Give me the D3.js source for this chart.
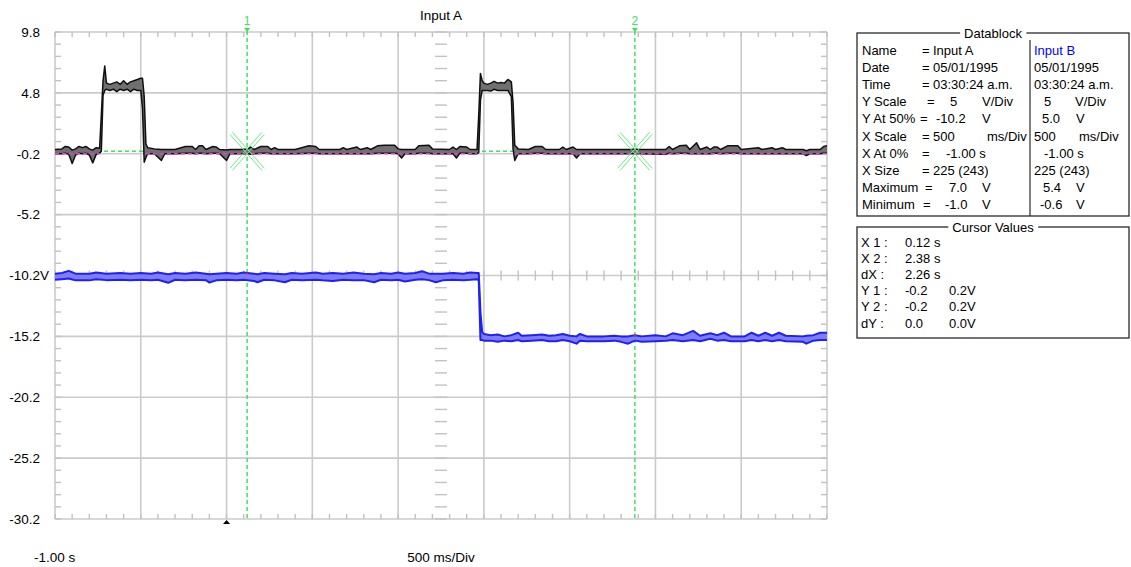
<!DOCTYPE html>
<html>
<head>
<meta charset="utf-8">
<script src="https://cdn.jsdelivr.net/npm/d3@7"></script>
<style>
  html, body { margin: 0; padding: 0; background: #fff; }
  svg { display: block; font-family: "Liberation Sans", Arial, sans-serif; }
</style>
</head>
<body>
<svg id="scope" width="1131" height="567"></svg>
<script>
// ---- Axis and annotation values ----
const yTickValues = [9.8, 4.8, -0.2, -5.2, -10.2, -15.2, -20.2, -25.2, -30.2];
const xGridValues = [-1, -0.5, 0, 0.5, 1, 1.5, 2, 2.5, 3, 3.5];
const titleText = "Input A";
const xStartLabel = "-1.00 s";
const xScaleLabel = "500 ms/Div";
const cursorIds = ["1", "2"];
const cursorTimes = [0.12, 2.38];
const cursorYPair = [-0.2, 0.2];
const refLevelA = -0.2;
const triggerTime = 0;
const centreTime = 1.25;
const centreLevelA = -10.2;
const channelBCentre = 5.0;
const voltsPerDiv = 5;

// ---- Input A: sample times (s) with upper / lower envelope (V) ----
const aTime = [
  -1.00, -0.96, -0.94, -0.92, -0.90, -0.88, -0.86, -0.84, -0.82, -0.80,
  -0.78, -0.76, -0.74, -0.73, -0.72, -0.71, -0.70, -0.68, -0.66, -0.64,
  -0.62, -0.60, -0.58, -0.56, -0.54, -0.52, -0.50, -0.49, -0.48, -0.47,
  -0.46, -0.42, -0.38, -0.36, -0.30, -0.24, -0.20, -0.18, -0.16, -0.14,
  -0.12, -0.08, -0.06, -0.04, 0.00, 0.02, 0.08, 0.12, 0.14, 0.16,
  0.20, 0.24, 0.26, 0.28, 0.30, 0.40, 0.48, 0.52, 0.54, 0.66,
  0.68, 0.70, 0.76, 0.78, 0.82, 0.84, 0.88, 0.92, 0.98, 1.00,
  1.02, 1.04, 1.10, 1.12, 1.18, 1.20, 1.30, 1.32, 1.34, 1.36,
  1.40, 1.42, 1.46, 1.47, 1.48, 1.49, 1.50, 1.52, 1.54, 1.56,
  1.58, 1.60, 1.62, 1.64, 1.66, 1.67, 1.68, 1.70, 1.76, 1.80,
  1.84, 1.86, 1.94, 1.96, 1.98, 2.02, 2.04, 2.06, 2.36, 2.38,
  2.40, 2.56, 2.58, 2.60, 2.64, 2.68, 2.70, 2.74, 2.76, 2.80,
  2.82, 2.84, 2.86, 2.88, 2.92, 2.98, 3.00, 3.10, 3.12, 3.18,
  3.20, 3.24, 3.26, 3.36, 3.38, 3.40, 3.46, 3.48, 3.50
];
const aHigh = [
  0.15, 0.20, 0.40, 0.35, 0.10, 0.20, 0.40, 0.30, 0.40, 0.20,
  0.10, 0.30, 0.25, 3.00, 5.80, 7.00, 5.60, 5.50, 5.60, 5.70,
  5.50, 5.80, 5.50, 5.70, 5.80, 5.90, 6.00, 6.00, 4.50, 0.60,
  0.30, 0.20, 0.15, 0.15, 0.15, 0.40, 0.40, 0.15, 0.45, 0.45,
  0.15, 0.40, 0.35, 0.15, 0.10, 0.15, 0.15, 0.20, 0.35, 0.15,
  0.40, 0.40, 0.15, 0.30, 0.15, 0.15, 0.45, 0.40, 0.15, 0.15,
  0.30, 0.15, 0.35, 0.15, 0.30, 0.15, 0.45, 0.50, 0.50, 0.20,
  0.15, 0.15, 0.15, 0.45, 0.50, 0.20, 0.15, 0.35, 0.15, 0.40,
  0.35, 0.15, 0.15, 3.00, 6.40, 5.80, 5.60, 5.50, 5.60, 5.75,
  5.60, 5.65, 5.60, 5.90, 5.70, 4.00, 0.50, 0.20, 0.15, 0.40,
  0.40, 0.15, 0.15, 0.35, 0.15, 0.35, 0.15, 0.15, 0.15, 0.20,
  0.15, 0.15, 0.40, 0.15, 0.45, 0.50, 0.15, 0.70, 0.15, 0.35,
  0.15, 0.35, 0.35, 0.15, 0.45, 0.45, 0.15, 0.30, 0.15, 0.30,
  0.15, 0.30, 0.15, 0.15, 0.05, 0.15, 0.15, 0.40, 0.45
];
const aLow = [
  -0.20, -0.20, -0.15, -0.25, -1.00, -0.30, -0.15, -0.20, -0.15, -0.30,
  -0.95, -0.25, -0.15, 0.00, 4.60, 5.00, 5.10, 5.00, 5.10, 4.90,
  5.10, 5.00, 5.10, 4.90, 5.10, 5.00, 5.00, 3.50, -0.90, -0.50,
  -0.20, -0.20, -0.75, -0.20, -0.20, -0.15, -0.15, -0.20, -0.15, -0.15,
  -0.20, -0.15, -0.15, -0.20, -0.75, -0.20, -0.20, -0.20, -0.25, -0.20,
  -0.15, -0.15, -0.20, -0.20, -0.20, -0.20, -0.15, -0.15, -0.20, -0.20,
  -0.20, -0.20, -0.20, -0.20, -0.20, -0.20, -0.15, -0.15, -0.15, -0.20,
  -0.55, -0.20, -0.20, -0.15, -0.15, -0.20, -0.20, -0.20, -0.55, -0.15,
  -0.15, -0.20, -0.20, -0.10, 4.20, 5.00, 5.00, 5.00, 4.95, 5.10,
  5.00, 5.00, 5.00, 5.00, 4.50, 0.20, -0.75, -0.20, -0.20, -0.15,
  -0.15, -0.20, -0.20, -0.20, -0.20, -0.20, -0.55, -0.20, -0.20, -0.20,
  -0.20, -0.25, -0.15, -0.20, -0.15, -0.15, -0.20, -0.20, -0.20, -0.20,
  -0.20, -0.15, -0.15, -0.20, -0.15, -0.15, -0.20, -0.20, -0.20, -0.20,
  -0.20, -0.20, -0.20, -0.20, -0.35, -0.20, -0.20, -0.15, -0.15
];

// ---- Input B: sample times (s) with upper / lower envelope (V) ----
const bTime = [
  -1.00, -0.96, -0.92, -0.88, -0.80, -0.76, -0.70, -0.62, -0.56, -0.50,
  -0.44, -0.40, -0.34, -0.30, -0.24, -0.18, -0.12, -0.10, -0.06, 0.00,
  0.06, 0.10, 0.16, 0.18, 0.22, 0.28, 0.34, 0.38, 0.44, 0.52,
  0.56, 0.62, 0.68, 0.74, 0.80, 0.86, 0.90, 0.96, 1.00, 1.04,
  1.10, 1.14, 1.18, 1.22, 1.26, 1.32, 1.38, 1.42, 1.46, 1.47,
  1.48, 1.49, 1.50, 1.54, 1.58, 1.62, 1.66, 1.70, 1.72, 1.78,
  1.84, 1.88, 1.92, 1.96, 2.00, 2.04, 2.06, 2.10, 2.20, 2.26,
  2.30, 2.34, 2.38, 2.42, 2.50, 2.56, 2.60, 2.66, 2.72, 2.76,
  2.82, 2.86, 2.90, 2.94, 3.02, 3.06, 3.10, 3.14, 3.18, 3.22,
  3.26, 3.36, 3.38, 3.42, 3.46, 3.50
];
const bHigh = [
  5.15, 5.20, 5.38, 5.15, 5.15, 5.25, 5.15, 5.20, 5.15, 5.20,
  5.15, 5.25, 5.10, 5.20, 5.15, 5.25, 5.15, 5.10, 5.15, 5.20,
  5.15, 5.25, 5.15, 5.10, 5.20, 5.15, 5.10, 5.20, 5.15, 5.25,
  5.15, 5.20, 5.15, 5.25, 5.15, 5.10, 5.20, 5.15, 5.25, 5.15,
  5.20, 5.35, 5.15, 5.15, 5.15, 5.20, 5.15, 5.25, 5.20, 5.20,
  2.00, 0.35, 0.20, 0.10, 0.15, 0.00, 0.10, 0.30, 0.05, 0.10,
  0.15, 0.05, 0.10, 0.20, 0.05, 0.00, 0.20, 0.00, 0.00, 0.05,
  0.00, 0.00, 0.10, 0.00, 0.10, 0.00, 0.25, 0.10, 0.45, 0.05,
  0.25, 0.10, 0.30, 0.00, 0.00, 0.30, 0.05, 0.30, 0.05, 0.30,
  0.05, 0.00, 0.05, 0.10, 0.30, 0.30
];
const bLow = [
  4.65, 4.70, 4.75, 4.60, 4.60, 4.70, 4.62, 4.65, 4.60, 4.65,
  4.62, 4.65, 4.40, 4.65, 4.62, 4.65, 4.62, 4.42, 4.60, 4.65,
  4.60, 4.65, 4.55, 4.45, 4.65, 4.60, 4.45, 4.65, 4.62, 4.65,
  4.60, 4.55, 4.65, 4.60, 4.62, 4.45, 4.65, 4.60, 4.65, 4.50,
  4.65, 4.70, 4.62, 4.45, 4.60, 4.65, 4.62, 4.65, 4.70, 4.60,
  -0.30, -0.30, -0.35, -0.35, -0.45, -0.35, -0.40, -0.30, -0.40, -0.35,
  -0.30, -0.40, -0.40, -0.30, -0.40, -0.60, -0.35, -0.40, -0.40, -0.35,
  -0.45, -0.60, -0.35, -0.45, -0.40, -0.35, -0.30, -0.40, -0.30, -0.40,
  -0.20, -0.35, -0.30, -0.40, -0.40, -0.30, -0.40, -0.30, -0.40, -0.30,
  -0.40, -0.45, -0.60, -0.35, -0.30, -0.30
];

// ---- Data block and cursor read-outs ----
const infoNames = ["Name", "Date", "Time", "Y Scale", "Y At 50%", "X Scale", "X At 0%", "X Size", "Maximum", "Minimum"];
const infoA = ["Input A", "05/01/1995", "03:30:24 a.m.", "5", "-10.2", "500", "-1.00 s", "225 (243)", "7.0", "-1.0"];
const infoAUnit = ["", "", "", "V/Div", "V", "ms/Div", "", "", "V", "V"];
const infoB = ["Input B", "05/01/1995", "03:30:24 a.m.", "5", "5.0", "500", "-1.00 s", "225 (243)", "5.4", "-0.6"];
const infoBUnit = ["", "", "", "V/Div", "V", "ms/Div", "", "", "V", "V"];
const cursorNames = ["X 1 :", "X 2 :", "dX :", "Y 1 :", "Y 2 :", "dY :"];
const cursorColA = ["0.12 s", "2.38 s", "2.26 s", "-0.2", "-0.2", "0.0"];
const cursorColB = ["", "", "", "0.2V", "0.2V", "0.0V"];

// ---- Layout ----
const svg = d3.select("#scope");
const plot = { left: 55, right: 827, top: 32, bottom: 519 };
const GRID = "#cbcbcb", TICK = "#c2c2c2", CURSOR = "#3de35f";

const x = d3.scaleLinear().domain([-1, 3.5]).range([plot.left, plot.right]);
const yA = d3.scaleLinear().domain([-30.2, 9.8]).range([plot.bottom, plot.top]);
const halfSpan = voltsPerDiv * 4;
const yB = d3.scaleLinear()
  .domain([channelBCentre - halfSpan, channelBCentre + halfSpan])
  .range([plot.bottom, plot.top]);

// grid
const grid = svg.append("g");
grid.selectAll("line.gv").data(xGridValues).join("line")
  .attr("x1", d => x(d)).attr("x2", d => x(d))
  .attr("y1", plot.top).attr("y2", plot.bottom)
  .attr("stroke", GRID).attr("stroke-width", 1.6);
grid.selectAll("line.gh").data(yTickValues).join("line")
  .attr("x1", plot.left).attr("x2", plot.right)
  .attr("y1", d => yA(d)).attr("y2", d => yA(d))
  .attr("stroke", GRID).attr("stroke-width", 1.6);

// minor ticks: 1/5 division on the frame and on the centre cross
const xMinor = d3.range(-1, 3.5001, 0.1);
const yMinor = d3.range(-30.2, 9.81, 1);
const ticks = svg.append("g").attr("stroke", TICK).attr("stroke-width", 1.4);
const yc = yA(centreLevelA), xc = x(centreTime);
xMinor.forEach(t => {
  const px = x(t);
  ticks.append("line").attr("x1", px).attr("x2", px).attr("y1", plot.top).attr("y2", plot.top + 5);
  ticks.append("line").attr("x1", px).attr("x2", px).attr("y1", plot.bottom - 5).attr("y2", plot.bottom);
  ticks.append("line").attr("x1", px).attr("x2", px).attr("y1", yc - 5).attr("y2", yc + 5);
});
yMinor.forEach(v => {
  const py = yA(v);
  ticks.append("line").attr("x1", plot.left).attr("x2", plot.left + 6).attr("y1", py).attr("y2", py);
  ticks.append("line").attr("x1", plot.right - 6).attr("x2", plot.right).attr("y1", py).attr("y2", py);
  ticks.append("line").attr("x1", xc - 6).attr("x2", xc + 6).attr("y1", py).attr("y2", py);
});

// y labels
const yAxis = d3.axisLeft(yA).tickValues(yTickValues).tickSize(0).tickPadding(15)
  .tickFormat(d => d.toFixed(1));
const yG = svg.append("g").attr("transform", `translate(${plot.left},0)`).call(yAxis);
yG.select(".domain").remove();
yG.attr("font-family", null).attr("font-size", null);
yG.selectAll("text").attr("fill", "#000").style("font-size", "13.5px");
yG.selectAll(".tick").filter(d => d === centreLevelA)
  .append("text").attr("x", -15).attr("dy", "0.32em").attr("text-anchor", "start")
  .attr("fill", "#000").style("font-size", "13.5px").text("V");

// title and bottom labels
svg.append("text").attr("x", x(centreTime)).attr("y", 20).attr("text-anchor", "middle")
  .style("font-size", "13.5px").text(titleText);
svg.append("text").attr("x", 34).attr("y", 562).style("font-size", "13.5px").text(xStartLabel);
svg.append("text").attr("x", x(centreTime)).attr("y", 562).attr("text-anchor", "middle")
  .style("font-size", "13.5px").text(xScaleLabel);

// trigger marker
const tx = x(triggerTime);
svg.append("path").attr("d", `M${tx - 3.5},${plot.bottom + 5}L${tx + 3.5},${plot.bottom + 5}L${tx},${plot.bottom + 1}Z`)
  .attr("fill", "#000");

// horizontal cursor level (midpoint of the Y1 read-out)
const cursorLevel = d3.mean(cursorYPair);
svg.append("line").attr("x1", plot.left).attr("x2", plot.right)
  .attr("y1", yA(cursorLevel)).attr("y2", yA(cursorLevel))
  .attr("stroke", CURSOR).attr("stroke-width", 1.5).attr("stroke-dasharray", "4,3");

// vertical cursors
cursorTimes.forEach((t, i) => {
  const cx = x(t);
  svg.append("line").attr("x1", cx).attr("x2", cx).attr("y1", plot.top - 1).attr("y2", plot.bottom)
    .attr("stroke", CURSOR).attr("stroke-width", 1.5).attr("stroke-dasharray", "4,3");
  svg.append("text").attr("x", cx).attr("y", 25).attr("text-anchor", "middle")
    .attr("fill", CURSOR).style("font-size", "12px").text(cursorIds[i]);
  svg.append("path").attr("d", `M${cx - 3},${plot.top - 4}L${cx + 3},${plot.top - 4}L${cx},${plot.top}Z`)
    .attr("fill", CURSOR);
});

// traces
const aData = aTime.map((t, i) => ({ t, hi: aHigh[i], lo: aLow[i] }));
const bData = bTime.map((t, i) => ({ t, hi: bHigh[i], lo: bLow[i] }));

function drawEnvelope(data, y, fill, edge, width) {
  const g = svg.append("g");
  g.append("path").datum(data)
    .attr("d", d3.area().x(d => x(d.t)).y0(d => y(d.lo)).y1(d => y(d.hi)))
    .attr("fill", fill);
  [d => d.hi, d => d.lo].forEach(acc => {
    g.append("path").datum(data)
      .attr("d", d3.line().x(d => x(d.t)).y(d => y(acc(d))))
      .attr("fill", "none").attr("stroke", edge).attr("stroke-width", width)
      .attr("stroke-linejoin", "round");
  });
}
drawEnvelope(bData, yB, "#7d7dff", "#2020f2", 2);
drawEnvelope(aData, yA, "#707070", "#101010", 1.5);

// reference level of Input A, shown where the trace sits on its baseline
const runs = [];
let run = [];
aData.forEach(d => {
  if (d.hi < 1) run.push(d);
  else { if (run.length > 1) runs.push(run); run = []; }
});
if (run.length > 1) runs.push(run);
runs.forEach(r => {
  svg.append("line").attr("x1", x(r[0].t)).attr("x2", x(r[r.length - 1].t))
    .attr("y1", yA(refLevelA)).attr("y2", yA(refLevelA))
    .attr("stroke", "#ee3ad4").attr("stroke-width", 1.6).attr("stroke-dasharray", "4,3");
});

// cursor crossing markers
cursorTimes.forEach(t => {
  const cx = x(t), cy = yA(cursorLevel);
  const g = svg.append("g").attr("stroke", "#6fe88a").attr("stroke-width", 1);
  const dx = 16, dy = 18, len = Math.hypot(dx, dy), o = 1.6;
  [[1, 1], [1, -1]].forEach(([sx, sy]) => {
    const px = -sy * dy / len * o, py = sx * dx / len * o;
    [-1, 1].forEach(k => {
      g.append("line")
        .attr("x1", cx - dx * sx + k * px).attr("y1", cy - dy * sy + k * py)
        .attr("x2", cx + dx * sx + k * px).attr("y2", cy + dy * sy + k * py);
    });
  });
  // small mark where the cursor meets Input B
  const bi = d3.bisector(d => d.t).left(bData, t);
  const bv = bData[Math.min(bi, bData.length - 1)].hi;
  svg.append("rect").attr("x", cx - 1).attr("y", yB(bv) - 1).attr("width", 2).attr("height", 2).attr("fill", "#e23030");
});

// ---- group boxes ----
function groupBox(x0, y0, x1, y1, title) {
  const g = svg.append("g");
  g.append("rect").attr("x", x0).attr("y", y0).attr("width", x1 - x0).attr("height", y1 - y0)
    .attr("fill", "none").attr("stroke", "#2a2a2a").attr("stroke-width", 1.3);
  const cx = (x0 + x1) / 2;
  const t = g.append("text").attr("x", cx).attr("y", y0 + 4.5).attr("text-anchor", "middle")
    .style("font-size", "13px").text(title);
  const bb = t.node().getBBox();
  g.insert("rect", "text").attr("x", bb.x - 4).attr("y", y0 - 2).attr("width", bb.width + 8).attr("height", 4)
    .attr("fill", "#fff");
  return g;
}

const dbTop = 33, dbBottom = 216, rowH = 17.2, row0 = 54.5;
const db = groupBox(857, dbTop, 1129, dbBottom, "Datablock");
db.append("line").attr("x1", 1030).attr("x2", 1030).attr("y1", 40).attr("y2", dbBottom)
  .attr("stroke", "#2a2a2a").attr("stroke-width", 1.2);

// column positions of each row of the data block
const eqX = [922, 922, 922, 927, 920, 922, 922, 922, 925, 923];
const valAX = [933, 933, 933, 950, 936, 933, 946, 933, 949, 945];
const unitAX = [0, 0, 0, 982, 982, 987, 0, 0, 982, 982];
const valBX = [1034, 1034, 1034, 1044, 1042, 1034, 1044, 1034, 1043, 1040];
const unitBX = [0, 0, 0, 1075, 1076, 1079, 0, 0, 1076, 1076];

const dbText = db.append("g").style("font-size", "13px").attr("fill", "#000");
infoNames.forEach((name, i) => {
  const yy = row0 + i * rowH;
  dbText.append("text").attr("x", 862).attr("y", yy).text(name);
  dbText.append("text").attr("x", eqX[i]).attr("y", yy).text("=");
  dbText.append("text").attr("x", valAX[i]).attr("y", yy).text(infoA[i]);
  if (infoAUnit[i]) dbText.append("text").attr("x", unitAX[i]).attr("y", yy).text(infoAUnit[i]);
  dbText.append("text").attr("x", valBX[i]).attr("y", yy).attr("fill", i === 0 ? "#0000ff" : "#000").text(infoB[i]);
  if (infoBUnit[i]) dbText.append("text").attr("x", unitBX[i]).attr("y", yy).text(infoBUnit[i]);
});

const cv = groupBox(857, 227, 1129, 338, "Cursor Values");
const cvText = cv.append("g").style("font-size", "13px").attr("fill", "#000");
cursorNames.forEach((name, i) => {
  const yy = 246.5 + i * 16.2;
  cvText.append("text").attr("x", 861).attr("y", yy).text(name);
  cvText.append("text").attr("x", 905).attr("y", yy).text(cursorColA[i]);
  if (cursorColB[i]) cvText.append("text").attr("x", 949).attr("y", yy).text(cursorColB[i]);
});
</script>
</body>
</html>
